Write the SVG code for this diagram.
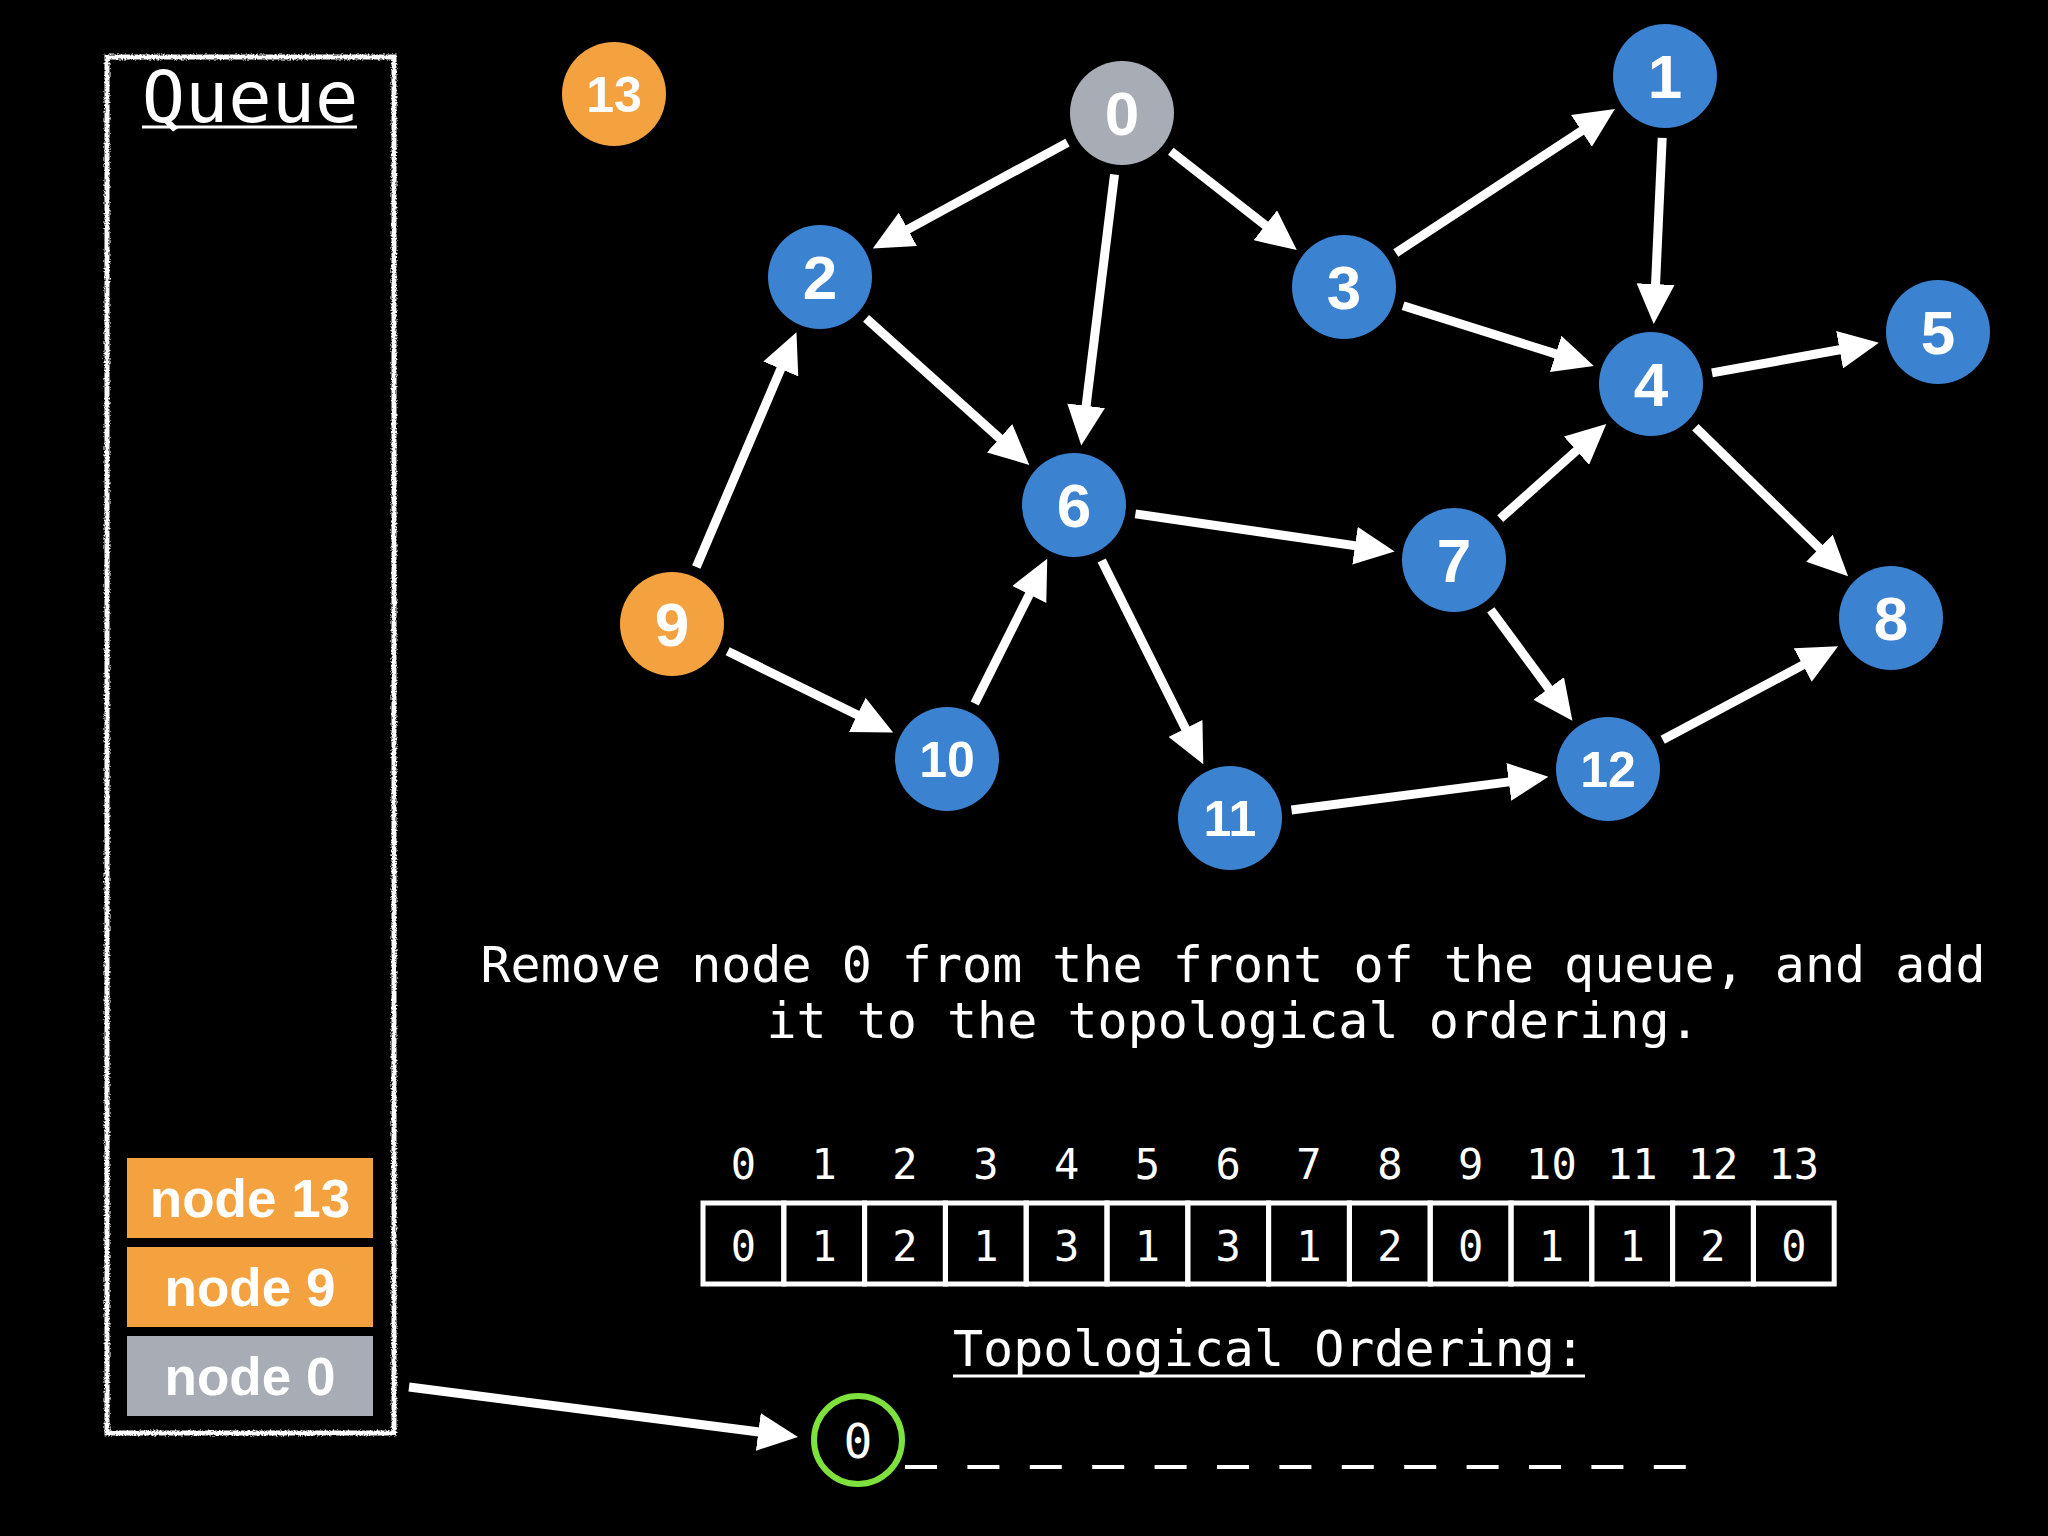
<svg xmlns="http://www.w3.org/2000/svg" width="2048" height="1536" viewBox="0 0 2048 1536">
<defs>
<style>
.bg{fill:#000}
.blue{fill:#3B82D0}
.orange{fill:#F4A23F}
.gray{fill:#A8ACB4}
.nl{font-family:"Liberation Sans",Arial,sans-serif;font-weight:bold;fill:#fff;text-anchor:middle}
.n1{font-size:62px}
.n2{font-size:50px}
.mono{font-family:"DejaVu Sans Mono","Liberation Mono",monospace;fill:#fff;text-anchor:middle}
.edge{stroke:#fff;stroke-width:9;fill:none;marker-end:url(#ah)}
.cell{fill:none;stroke:#fff;stroke-width:5}
.qi{font-family:"Liberation Sans",Arial,sans-serif;font-weight:bold;font-size:53px;fill:#fff;text-anchor:middle}
</style>
<marker id="ah" markerUnits="userSpaceOnUse" markerWidth="40" markerHeight="38" refX="10" refY="19" orient="auto" viewBox="0 0 40 38">
<path d="M0,0 L40,19 L0,38 z" fill="#fff"/>
</marker>
<filter id="rough" x="-5%" y="-5%" width="110%" height="110%">
<feTurbulence type="fractalNoise" baseFrequency="0.6" numOctaves="2" seed="3"/>
<feDisplacementMap in="SourceGraphic" scale="4" xChannelSelector="R" yChannelSelector="G"/>
</filter>
</defs>
<rect class="bg" x="0" y="0" width="2048" height="1536"/>

<g id="queue">
<rect x="107" y="57" width="287" height="1376" fill="none" stroke="#fff" stroke-width="5" filter="url(#rough)"/>
<text class="mono" x="250" y="122" font-size="72">Queue</text>
<line x1="142" y1="127" x2="357" y2="127" stroke="#fff" stroke-width="3"/>
<g id="q13"><rect class="orange" x="127" y="1158" width="246" height="80"/><text class="qi" x="250" y="1217">node 13</text></g>
<g id="q9"><rect class="orange" x="127" y="1247" width="246" height="80"/><text class="qi" x="250" y="1306">node 9</text></g>
<g id="q0"><rect class="gray" x="127" y="1336" width="246" height="80"/><text class="qi" x="250" y="1395">node 0</text></g>
</g>

<g id="connectors">
<line class="edge" x1="1067.5" y1="142.6" x2="899.1" y2="234.1"/>
<line class="edge" x1="1114.5" y1="174.5" x2="1084.9" y2="415.7"/>
<line class="edge" x1="1170.8" y1="151.2" x2="1273.2" y2="231.5"/>
<line class="edge" x1="1395.8" y1="252.9" x2="1589.8" y2="125.4"/>
<line class="edge" x1="1403.1" y1="305.7" x2="1565.2" y2="356.9"/>
<line class="edge" x1="1662.2" y1="137.9" x2="1655.1" y2="294.1"/>
<line class="edge" x1="1712.0" y1="372.9" x2="1849.4" y2="348.0"/>
<line class="edge" x1="1695.4" y1="427.3" x2="1826.6" y2="555.2"/>
<line class="edge" x1="866.1" y1="318.4" x2="1007.0" y2="444.9"/>
<line class="edge" x1="696.3" y1="567.0" x2="784.7" y2="359.8"/>
<line class="edge" x1="727.7" y1="651.3" x2="866.2" y2="719.3"/>
<line class="edge" x1="974.7" y1="703.5" x2="1033.8" y2="585.5"/>
<line class="edge" x1="1135.4" y1="513.9" x2="1364.9" y2="547.1"/>
<line class="edge" x1="1101.7" y1="560.5" x2="1189.9" y2="737.4"/>
<line class="edge" x1="1500.2" y1="518.7" x2="1583.9" y2="444.0"/>
<line class="edge" x1="1490.8" y1="609.9" x2="1554.6" y2="696.5"/>
<line class="edge" x1="1291.5" y1="810.0" x2="1518.7" y2="780.6"/>
<line class="edge" x1="1662.7" y1="739.8" x2="1811.6" y2="660.4"/>
<line class="edge" x1="409" y1="1387" x2="768.2" y2="1433.2"/>
</g>

<g id="node0"><circle class="gray" cx="1122" cy="113" r="52"/><text class="nl n1" x="1122" y="135">0</text></g>
<g id="node1"><circle class="blue" cx="1665" cy="76" r="52"/><text class="nl n1" x="1665" y="98">1</text></g>
<g id="node2"><circle class="blue" cx="820" cy="277" r="52"/><text class="nl n1" x="820" y="299">2</text></g>
<g id="node3"><circle class="blue" cx="1344" cy="287" r="52"/><text class="nl n1" x="1344" y="309">3</text></g>
<g id="node4"><circle class="blue" cx="1651" cy="384" r="52"/><text class="nl n1" x="1651" y="406">4</text></g>
<g id="node5"><circle class="blue" cx="1938" cy="332" r="52"/><text class="nl n1" x="1938" y="354">5</text></g>
<g id="node6"><circle class="blue" cx="1074" cy="505" r="52"/><text class="nl n1" x="1074" y="527">6</text></g>
<g id="node7"><circle class="blue" cx="1454" cy="560" r="52"/><text class="nl n1" x="1454" y="582">7</text></g>
<g id="node8"><circle class="blue" cx="1891" cy="618" r="52"/><text class="nl n1" x="1891" y="640">8</text></g>
<g id="node9"><circle class="orange" cx="672" cy="624" r="52"/><text class="nl n1" x="672" y="646">9</text></g>
<g id="node10"><circle class="blue" cx="947" cy="759" r="52"/><text class="nl n2" x="947" y="777">10</text></g>
<g id="node11"><circle class="blue" cx="1230" cy="818" r="52"/><text class="nl n2" x="1230" y="836">11</text></g>
<g id="node12"><circle class="blue" cx="1608" cy="769" r="52"/><text class="nl n2" x="1608" y="787">12</text></g>
<g id="node13"><circle class="orange" cx="614" cy="94" r="52"/><text class="nl n2" x="614" y="112">13</text></g>

<g id="caption">
<text class="mono" x="1233" y="982" font-size="50">Remove node 0 from the front of the queue, and add</text>
<text class="mono" x="1233" y="1038" font-size="50">it to the topological ordering.</text>
</g>

<g id="indegree" font-size="42">
<g class="mono">
<text x="743.4" y="1179">0</text><text x="824.2" y="1179">1</text><text x="905" y="1179">2</text><text x="985.8" y="1179">3</text><text x="1066.6" y="1179">4</text><text x="1147.4" y="1179">5</text><text x="1228.2" y="1179">6</text><text x="1309" y="1179">7</text><text x="1389.8" y="1179">8</text><text x="1470.6" y="1179">9</text><text x="1551.4" y="1179">10</text><text x="1632.2" y="1179">11</text><text x="1713" y="1179">12</text><text x="1793.8" y="1179">13</text>
</g>
<rect class="cell" x="703" y="1203" width="80.8" height="81"/>
<rect class="cell" x="783.8" y="1203" width="80.8" height="81"/>
<rect class="cell" x="864.6" y="1203" width="80.8" height="81"/>
<rect class="cell" x="945.4" y="1203" width="80.8" height="81"/>
<rect class="cell" x="1026.2" y="1203" width="80.8" height="81"/>
<rect class="cell" x="1107" y="1203" width="80.8" height="81"/>
<rect class="cell" x="1187.8" y="1203" width="80.8" height="81"/>
<rect class="cell" x="1268.6" y="1203" width="80.8" height="81"/>
<rect class="cell" x="1349.4" y="1203" width="80.8" height="81"/>
<rect class="cell" x="1430.2" y="1203" width="80.8" height="81"/>
<rect class="cell" x="1511" y="1203" width="80.8" height="81"/>
<rect class="cell" x="1591.8" y="1203" width="80.8" height="81"/>
<rect class="cell" x="1672.6" y="1203" width="80.8" height="81"/>
<rect class="cell" x="1753.4" y="1203" width="80.8" height="81"/>
<g class="mono">
<text x="743.4" y="1261">0</text><text x="824.2" y="1261">1</text><text x="905" y="1261">2</text><text x="985.8" y="1261">1</text><text x="1066.6" y="1261">3</text><text x="1147.4" y="1261">1</text><text x="1228.2" y="1261">3</text><text x="1309" y="1261">1</text><text x="1389.8" y="1261">2</text><text x="1470.6" y="1261">0</text><text x="1551.4" y="1261">1</text><text x="1632.2" y="1261">1</text><text x="1713" y="1261">2</text><text x="1793.8" y="1261">0</text>
</g>
</g>

<g id="ordering">
<text class="mono" x="1269" y="1366" font-size="50">Topological Ordering:</text>
<line x1="953" y1="1376" x2="1585" y2="1376" stroke="#fff" stroke-width="3"/>
<circle cx="858" cy="1440" r="44" fill="none" stroke="#7DE23D" stroke-width="6"/>
<text class="mono" x="858" y="1458" font-size="48">0</text>
<line x1="905" y1="1467" x2="1686" y2="1467" stroke="#fff" stroke-width="4" stroke-dasharray="32,30.4"/>
</g>
</svg>
